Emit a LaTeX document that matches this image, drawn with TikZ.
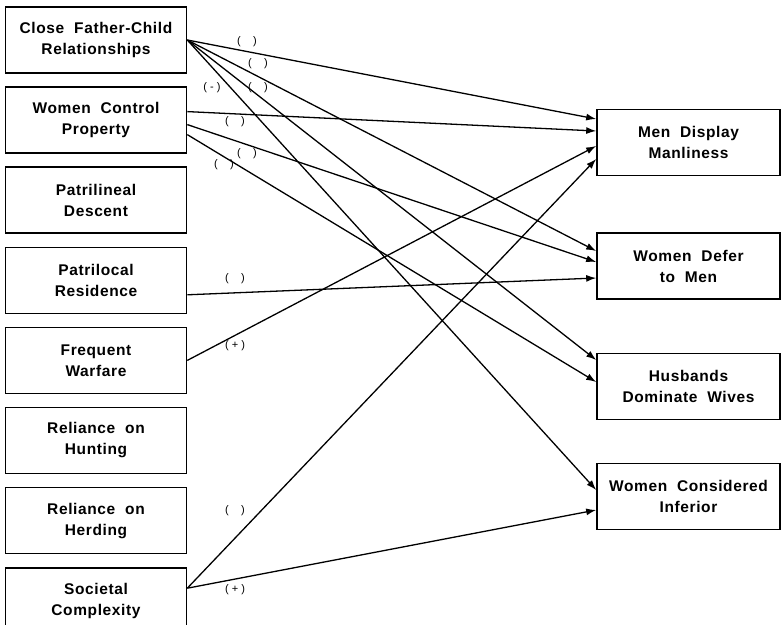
\documentclass[tikz,border=0pt]{standalone}
\usepackage{fontspec}
\setmainfont{Liberation Sans}
\usepackage{tikz}
\usetikzlibrary{arrows.meta,positioning}
\newfontfamily\boxfont[LetterSpace=4]{Liberation Sans}
\tikzset{
  factorbox/.style={draw,line width=1.6pt,align=center,minimum width=181pt,
    minimum height=66pt,font=\boxfont\bfseries\fontsize{15.5}{21}\selectfont},
  outcomebox/.style={factorbox,minimum width=183pt},
  effectarrow/.style={-{Latex[length=10pt,width=7pt]},line width=1.3pt},
  signlabel/.style={font=\fontsize{11}{12}\selectfont}
}
\begin{document}
\begin{tikzpicture}[x=1pt,y=-1pt,node distance=12.5pt]
  \useasboundingbox (0,0) rectangle (782,624);
  % causes
  \node[factorbox] (close) at (96,40) {Close\ \ Father-Child\\Relationships};
  \node[factorbox,below=of close] (property) {Women\ \ Control\\Property};
  \node[factorbox,below=of property] (descent) {Patrilineal\\Descent};
  \node[factorbox,below=of descent] (residence) {Patrilocal\\Residence};
  \node[factorbox,below=of residence] (warfare) {Frequent\\Warfare};
  \node[factorbox,below=of warfare] (hunting) {Reliance\ \ on\\Hunting};
  \node[factorbox,below=of hunting] (herding) {Reliance\ \ on\\Herding};
  \node[factorbox,below=of herding] (complexity) {Societal\\Complexity};
  % outcomes
  \node[outcomebox] (manliness) at (688.5,142.5) {Men\ \ Display\\Manliness};
  \node[outcomebox] (defer) at (688.5,266) {Women\ \ Defer\\to\ \ Men};
  \node[outcomebox] (dominate) at (688.5,386.5) {Husbands\\Dominate\ \ Wives};
  \node[outcomebox] (inferior) at (688.5,496.5) {Women\ \ Considered\\Inferior};
  % paths
  \draw[effectarrow] (close.east) -- ([yshift=23.5pt]manliness.west);
  \draw[effectarrow] (close.east) -- ([yshift=15pt]defer.west);
  \draw[effectarrow] (close.east) -- ([yshift=26.5pt]dominate.west);
  \draw[effectarrow] (close.east) -- ([yshift=6.5pt]inferior.west);
  \draw[effectarrow] ([yshift=8.5pt]property.east) -- ([yshift=11.5pt]manliness.west);
  \draw[effectarrow] ([yshift=-4.5pt]property.east) -- ([yshift=4pt]defer.west);
  \draw[effectarrow] ([yshift=-14.5pt]property.east) -- ([yshift=4.5pt]dominate.west);
  \draw[effectarrow] ([yshift=-14.5pt]residence.east) -- ([yshift=-12pt]defer.west);
  \draw[effectarrow] (warfare.east) -- ([yshift=-3.5pt]manliness.west);
  \draw[effectarrow] ([yshift=12.5pt]complexity.east) -- ([yshift=-16.5pt]manliness.west);
  \draw[effectarrow] ([yshift=12.5pt]complexity.east) -- ([yshift=-13.5pt]inferior.west);
  % signs
  \node[signlabel] (s1) at (247,42) {(\ \ \ \ )};
  \node[signlabel] (s2) at (258,64) {(\ \ \ \ )};
  \node[signlabel] (s3) at (212,88) {(\ -\ )};
  \node[signlabel] (s4) at (258,88) {(\ \ \ \ )};
  \node[signlabel] (s5) at (235,122) {(\ \ \ \ )};
  \node[signlabel] (s6) at (247,154) {(\ \ \ \ )};
  \node[signlabel] (s7) at (224,165) {(\ \ \ \ )};
  \node[signlabel] (s8) at (235,279) {(\ \ \ \ )};
  \node[signlabel] (s9) at (235,346) {(\ +\ )};
  \node[signlabel] (s10) at (235,511) {(\ \ \ \ )};
  \node[signlabel] (s11) at (235,590) {(\ +\ )};
\end{tikzpicture}
\end{document}
